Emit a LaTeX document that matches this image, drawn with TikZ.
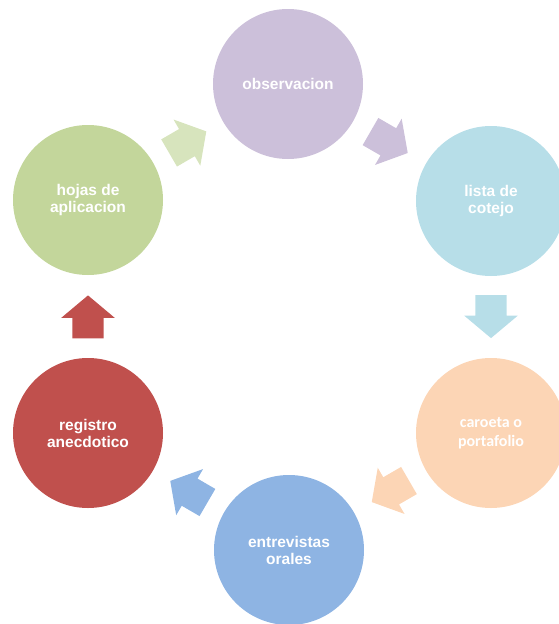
\documentclass[tikz,border=0pt]{standalone}
\usepackage{fontspec}
\setmainfont{Liberation Sans}
\newfontfamily\carlito{Carlito}
\usetikzlibrary{shapes.arrows,calc}
\definecolor{cHoja}{HTML}{C3D69B}
\definecolor{aHoja}{HTML}{D7E4BD}
\definecolor{cObs}{HTML}{CCC0DA}
\definecolor{cLista}{HTML}{B7DEE8}
\definecolor{cCar}{HTML}{FCD5B5}
\definecolor{cEnt}{HTML}{8EB4E3}
\definecolor{cReg}{HTML}{C0504D}
\tikzset{
  bubble/.style={circle, minimum size=150pt, inner sep=0pt, draw=none, text=white, align=center,
    font=\fontsize{15.5}{17}\selectfont\bfseries},
  blockarrow/.style={single arrow, draw=none, fill=#1, minimum height=43pt,
    single arrow head extend=11pt, single arrow head indent=0pt, single arrow tip angle=100,
    inner xsep=0pt, inner ysep=15.5pt, outer sep=0pt,
    sloped, allow upside down, pos=0.47}
}
\begin{document}
\begin{tikzpicture}[x=1pt,y=-1pt]
\useasboundingbox (0,0) rectangle (558,624);
\node[bubble, fill=cObs] (obs) at (288,84) {observacion};
\node[bubble, fill=cLista] (lista) at (491,201) {lista de\\cotejo};
\node[bubble, fill=cCar, font=\fontsize{16}{19}\selectfont\carlito\bfseries] (car) at (491,433) {caroeta o\\portafolio};
\node[bubble, fill=cEnt] (ent) at (289,550) {entrevistas\\orales};
\node[bubble, fill=cReg] (reg) at (88,433) {registro\\anecdotico};
\node[bubble, fill=cHoja] (hoja) at (88,200) {hojas de\\aplicacion};
\path (hoja.center) -- (obs.center) node[blockarrow=aHoja] (a1) {};
\path (obs.center) -- (lista.center) node[blockarrow=cObs] (a2) {};
\path (lista.center) -- (car.center) node[blockarrow=cLista] (a3) {};
\path (car.center) -- (ent.center) node[blockarrow=cCar] (a4) {};
\path (ent.center) -- (reg.center) node[blockarrow=cEnt] (a5) {};
\path (reg.center) -- (hoja.center) node[blockarrow=cReg] (a6) {};
\end{tikzpicture}
\end{document}
